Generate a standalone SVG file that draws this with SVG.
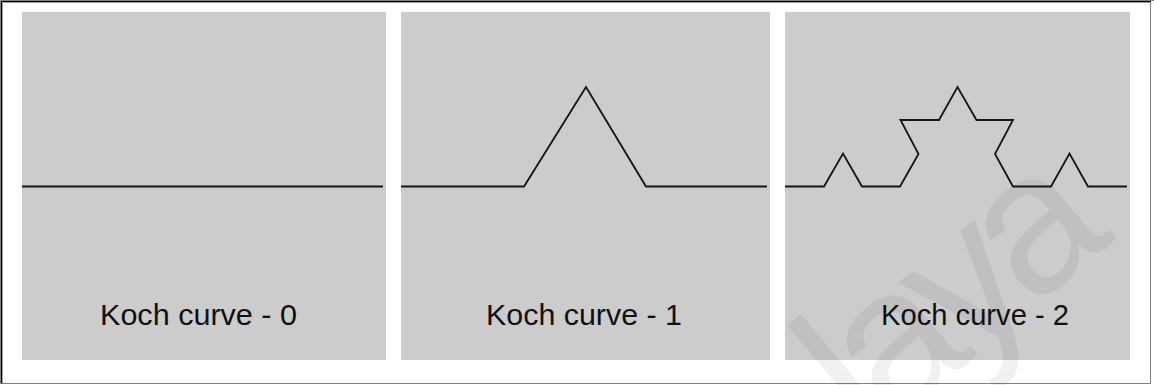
<svg xmlns="http://www.w3.org/2000/svg" width="1154" height="385" viewBox="0 0 1154 385">
<style>
.panel{fill:#cccccc}
.curve{fill:none;stroke:#151515;stroke-width:1.8;stroke-linejoin:miter}
.lbl{font-family:"Liberation Sans",Arial,sans-serif;font-size:30px;fill:#111}
.wm{font-family:"Liberation Sans",Arial,sans-serif;font-size:200px;fill:#000;fill-opacity:0.06}
</style>
<rect x="0" y="0" width="1154" height="385" fill="#ffffff"/>
<g id="frame" fill="none">
<path d="M0.5,384 V0.5 H1154" stroke="#808080"/>
<path d="M1.5,383 V1.5 H1151" stroke="#000000"/>
<path d="M2.5,383 V2.5 H1151" stroke="#a0a0a0"/>
<path d="M1150.5,2 V383.5 H1" stroke="#808080"/>
</g>
<g id="koch0">
<rect class="panel" x="22" y="12" width="364" height="348"/>
<polyline class="curve" points="22,186.5 383,186.5"/>
<text class="lbl" x="100" y="325" textLength="197" lengthAdjust="spacingAndGlyphs">Koch curve - 0</text>
</g>
<g id="koch1">
<rect class="panel" x="401" y="12" width="369" height="348"/>
<polyline class="curve" points="401,186.5 524,186.5 586,87 646,186.5 767,186.5"/>
<text class="lbl" x="486" y="325" textLength="196" lengthAdjust="spacingAndGlyphs">Koch curve - 1</text>
</g>
<g id="koch2">
<rect class="panel" x="785" y="12" width="345" height="348"/>
<polyline class="curve" points="785,186.5 824,186.5 843,153.5 862,186.5 900,186.5 918.5,154 900.5,120 939,120 957.5,87 976.5,120 1013,120 995,154 1013,186.5 1051,186.5 1069.5,153.5 1088,186.5 1127,186.5"/>
<text class="lbl" x="881" y="325" textLength="188" lengthAdjust="spacingAndGlyphs">Koch curve - 2</text>
</g>
<text class="wm" x="870" y="445" letter-spacing="-15" transform="rotate(-40 870 445)">laya</text>
</svg>
